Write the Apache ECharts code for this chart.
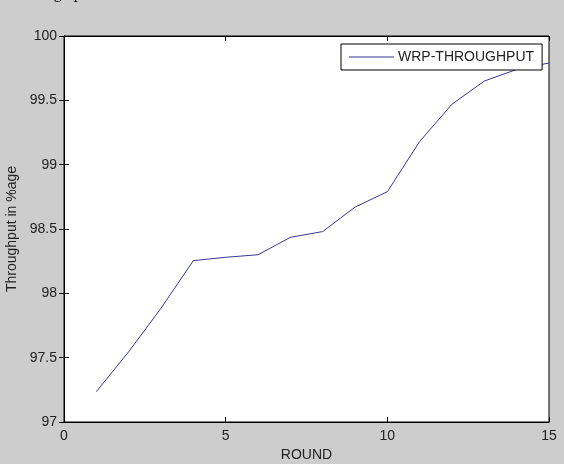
<!DOCTYPE html>
<html>
<head>
<meta charset="utf-8">
<script src="https://cdn.jsdelivr.net/npm/echarts@6/dist/echarts.min.js"></script>
<style>
html,body{margin:0;padding:0;background:#cdcdcd;}
#chart{width:564px;height:464px;}
</style>
</head>
<body>
<div id="chart"></div>
<script>
const rounds = [1, 2, 3, 4, 5, 6, 7, 8, 9, 10, 11, 12, 13, 14, 15];
const throughput = [97.236, 97.546, 97.884, 98.254, 98.28, 98.30, 98.435, 98.48, 98.67, 98.79, 99.18, 99.47, 99.65, 99.74, 99.79];
const seriesName = 'WRP-THROUGHPUT';
const xTitle = 'ROUND';
const yTitle = 'Throughput in %age';

const FONT = 'Liberation Sans';
const chart = echarts.init(document.getElementById('chart'), null, {renderer: 'canvas'});
const tickStyle = {show: true, inside: true, length: 5, lineStyle: {color: '#000', width: 1}};
const axisLineStyle = {show: true, lineStyle: {color: '#000', width: 1}};
const labelStyle = {fontFamily: FONT, fontSize: 14, color: '#222'};

chart.setOption({
  backgroundColor: '#cdcdcd',
  animation: false,
  textStyle: {fontFamily: FONT},
  grid: {left: 64, right: 15, top: 36, bottom: 42, containLabel: false, outerBoundsMode: 'none',
         show: true, backgroundColor: '#fff', borderColor: '#000', borderWidth: 1},
  legend: {
    left: 341, top: 44,
    data: [{name: seriesName, icon: 'rect'}],
    itemWidth: 45, itemHeight: 1, itemGap: 0,
    padding: [6, 8, 6, 8],
    backgroundColor: '#fff', borderColor: '#000', borderWidth: 1, borderRadius: 0,
    textStyle: Object.assign({}, labelStyle, {padding: [0, 0, 0, -1]})
  },
  xAxis: [{
    type: 'value', min: 0, max: 15, interval: 5,
    name: xTitle, nameLocation: 'middle', nameGap: 25,
    nameTextStyle: labelStyle,
    axisLine: axisLineStyle, axisTick: tickStyle, splitLine: {show: false},
    axisLabel: Object.assign({}, labelStyle, {margin: 7})
  }, {
    type: 'value', min: 0, max: 15, interval: 5, position: 'top',
    axisLine: axisLineStyle, axisTick: tickStyle, splitLine: {show: false},
    axisLabel: {show: false}
  }],
  yAxis: [{
    type: 'value', min: 97, max: 100, interval: 0.5,
    name: yTitle, nameLocation: 'middle', nameGap: 39, nameRotate: 90,
    nameTextStyle: labelStyle,
    axisLine: axisLineStyle, axisTick: tickStyle, splitLine: {show: false},
    axisLabel: Object.assign({}, labelStyle, {margin: 7})
  }, {
    type: 'value', min: 97, max: 100, interval: 0.5, position: 'right',
    axisLine: axisLineStyle, axisTick: tickStyle, splitLine: {show: false},
    axisLabel: {show: false}
  }],
  graphic: [{
    type: 'text', left: 20, top: -14,
    style: {text: 'through put', font: '16px "Liberation Serif"', fill: '#000'}
  }],
  series: [{
    name: seriesName, type: 'line', xAxisIndex: 0, yAxisIndex: 0,
    data: rounds.map((r, i) => [r, throughput[i]]),
    showSymbol: false, symbol: 'none',
    lineStyle: {color: '#36369a', width: 1},
    itemStyle: {color: '#36369a'}
  }]
});
</script>
</body>
</html>
